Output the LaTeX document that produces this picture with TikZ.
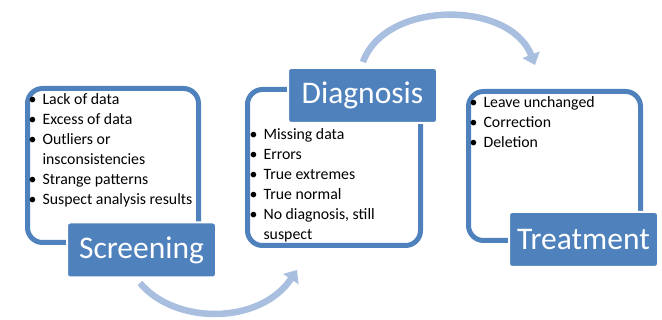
\documentclass[tikz,border=0pt]{standalone}
\usepackage{fontspec}
\setmainfont{Carlito}
\usetikzlibrary{arrows.meta}
\definecolor{stageblue}{HTML}{4F81BD}
\definecolor{flowblue}{HTML}{A9BFDF}
\tikzset{stage outline/.style={draw=stageblue,line width=5pt,rounded corners=15pt},
         stage label/.style={fill=stageblue,draw=white,line width=2pt,rounded corners=3pt,
                             minimum width=149pt,minimum height=55pt,inner sep=0,
                             text=white,font=\fontsize{31.5}{36}\selectfont},
         stage list/.style={anchor=base west,inner sep=0,font=\fontsize{15.8}{20}\selectfont},
         flow arrow/.style={draw=flowblue,line width=6.5pt,-{Triangle[length=11pt,width=18pt]}}}
\newcommand\bulletlist[1]{\begin{tabular}[t]{@{}l@{\hspace{6pt}}l@{}}#1\end{tabular}}

\begin{document}
\begin{tikzpicture}[x=1pt,y=-1pt]
  \useasboundingbox (0,0) rectangle (662,320);

  % frames round each list
  \node[stage outline, minimum width=171pt, minimum height=154pt] (scrBox)   at (113,165.5) {};
  \node[stage outline, minimum width=173pt, minimum height=156pt] (diagBox)  at (334,167.5) {};
  \node[stage outline, minimum width=172pt, minimum height=149pt] (treatBox) at (554.5,166) {};

  % stage names
  \node[stage label] (scrLabel)   at (141.5,250)  {Screening};
  \node[stage label] (diagLabel)  at (362.5,95.5) {Diagnosis};
  \node[stage label] (treatLabel) at (583.5,239.5) {Treatment};

  \node[stage list] (scrList) at (28.5,105) {\bulletlist{
      \textbullet & Lack of data\\
      \textbullet & Excess of data\\
      \textbullet & Outliers or\\
                  & insconsistencies\\
      \textbullet & Strange patterns\\
      \textbullet & Suspect analysis results}};
  \node[stage list] (diagList) at (249.5,140) {\bulletlist{
      \textbullet & Missing data\\
      \textbullet & Errors\\
      \textbullet & True extremes\\
      \textbullet & True normal\\
      \textbullet & No diagnosis, still\\
                  & suspect}};
  \node[stage list] (treatList) at (469.5,108) {\bulletlist{
      \textbullet & Leave unchanged\\
      \textbullet & Correction\\
      \textbullet & Deletion}};

  % curved arrows between the stages
  \coordinate (lowStart) at (140,283);
  \coordinate (lowEnd)   at (297,270);
  \coordinate (upStart)  at (363,62);
  \coordinate (upEnd)    at (535,65);
  \draw[flow arrow] (lowStart) .. controls +(35,42) and +(-37,55) .. (lowEnd);
  \draw[flow arrow] (upStart) .. controls +(22,-62) and +(-25,-65) .. (upEnd);

\end{tikzpicture}
\end{document}
